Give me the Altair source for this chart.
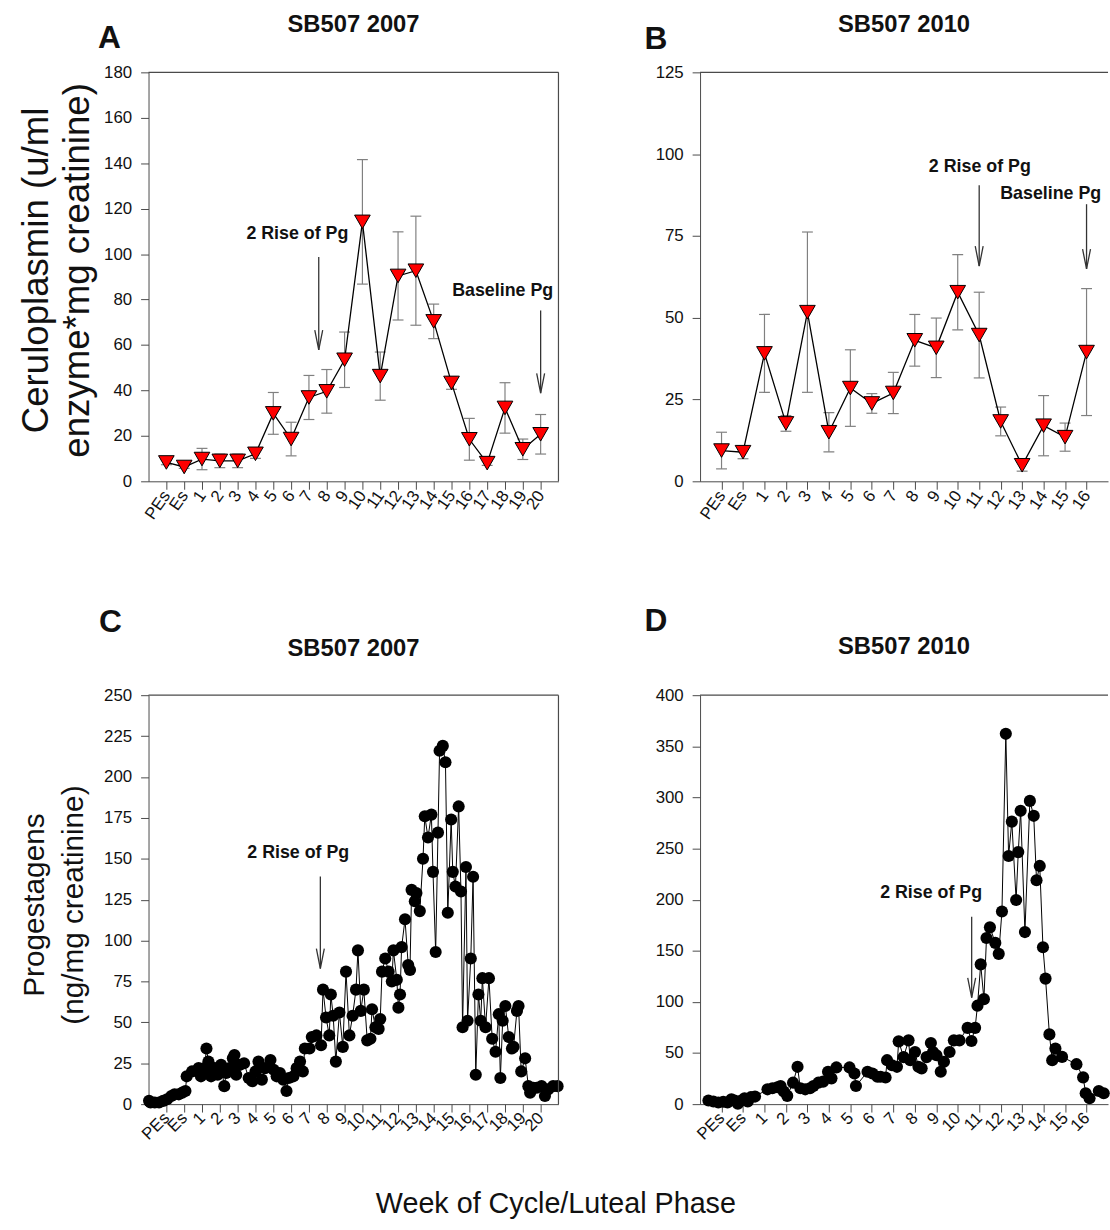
import json
import altair as alt
import pandas as pd

FONT = "Liberation Sans"
INK = "#111111"
AXIS_GREY = "#4a4a4a"
ERR_GREY = "#808080"

# ---------------- data ----------------
weeks_A = ["PEs", "Es"] + [str(w) for w in range(1, 21)]
cerulo_2007 = [8.3, 6.3, 9.8, 9.0, 9.0, 12.1, 29.9, 18.6, 36.9, 39.6, 53.5,
               114.2, 46.3, 90.4, 92.7, 70.4, 43.3, 18.5, 8.0, 32.3, 14.1, 20.7]
cerulo_2007_err = [1.0, 0.6, 4.7, 3.0, 3.0, 2.0, 9.2, 7.4, 9.7, 9.6, 12.2,
                   27.4, 10.6, 19.4, 24.0, 7.6, 2.8, 9.2, 1.0, 11.1, 4.5, 8.7]

weeks_B = ["PEs", "Es"] + [str(w) for w in range(1, 17)]
cerulo_2010 = [9.4, 8.9, 39.1, 17.7, 51.7, 15.0, 28.5, 23.8, 27.0, 43.1, 40.8,
               57.8, 44.7, 18.3, 4.9, 17.0, 13.5, 39.5]
cerulo_2010_err = [5.6, 2.0, 11.9, 2.4, 24.5, 6.0, 11.7, 3.0, 6.3, 7.9, 9.1,
                   11.5, 13.1, 4.4, 1.8, 9.2, 4.3, 19.4]

# progestagen samples: position on the week axis (0 = PEs, 1 = Es, 2 = week 1 ...)
prog_2007_t = [-0.97, -0.89, -0.65, -0.41, -0.18, 0.04, 0.28, 0.46, 0.70, 0.89,
               1.07, 1.14, 1.44, 1.81, 1.94, 2.14, 2.25, 2.36, 2.51, 2.70,
               2.88, 3.07, 3.25, 3.36, 3.55, 3.73, 3.82, 3.92, 4.10, 4.36,
               4.62, 4.82, 5.00, 5.17, 5.36, 5.54, 5.84, 6.02, 6.19, 6.37,
               6.56, 6.74, 6.87, 7.13, 7.31, 7.50, 7.66, 7.77, 8.03, 8.16,
               8.42, 8.68, 8.79, 8.96, 9.14, 9.23, 9.36, 9.51, 9.71, 9.90,
               10.08, 10.27, 10.45, 10.64, 10.75, 10.91, 11.08, 11.27, 11.45, 11.54,
               11.73, 11.91, 12.00, 12.10, 12.28, 12.47, 12.65, 12.74, 12.93, 13.02,
               13.11, 13.20, 13.39, 13.57, 13.67, 13.76, 13.94, 14.03, 14.22, 14.40,
               14.50, 14.68, 14.87, 14.96, 15.11, 15.24, 15.33, 15.51, 15.66, 15.79,
               15.98, 16.07, 16.22, 16.40, 16.53, 16.62, 16.81, 16.90, 17.08, 17.21,
               17.36, 17.51, 17.64, 17.73, 17.91, 18.10, 18.28, 18.47, 18.65, 18.74,
               18.87, 19.02, 19.21, 19.39, 19.48, 19.67, 19.76, 19.91, 20.13, 20.31,
               20.41, 20.59, 20.78, 21.05, 21.24, 21.42, 21.70, 21.95]
prog_2007 = [2, 1, 1, 1, 2, 3, 5, 6, 6, 7,
             8, 17, 20, 22, 17, 22, 34, 26, 17, 22,
             18, 24, 11, 19, 22, 28, 30, 18, 24, 25,
             16, 14, 20, 26, 15, 22, 27, 21, 17, 19,
             15, 8, 16, 17, 22, 26, 20, 34, 34, 41,
             42, 36, 70, 53, 42, 67, 54, 26, 56, 35,
             81, 42, 54, 70, 94, 57, 70, 39, 40, 58,
             47, 46, 52, 81, 89, 81, 75, 94, 76, 59,
             67, 96, 113, 85, 82, 131, 124, 129, 118, 150,
             176, 163, 177, 142, 93, 166, 216, 219, 209, 117,
             174, 142, 133, 182, 130, 47, 145, 51, 89, 139,
             18, 67, 51, 77, 47, 77, 40, 32, 55, 16,
             51, 60, 41, 34, 35, 57, 60, 20, 28, 11,
             7, 10, 10, 11, 5, 9, 11, 11]

prog_2010_t = [-0.61, -0.38, -0.15, 0.08, 0.28, 0.46, 0.61, 0.76, 0.92, 1.07,
               1.22, 1.37, 1.56, 2.14, 2.37, 2.60, 2.75, 2.90, 3.06, 3.33,
               3.54, 3.67, 3.90, 4.12, 4.28, 4.51, 4.73, 4.96, 5.12, 5.35,
               5.96, 6.19, 6.26, 6.80, 7.03, 7.26, 7.41, 7.64, 7.71, 7.94,
               8.17, 8.25, 8.48, 8.71, 8.79, 9.01, 9.17, 9.32, 9.55, 9.75,
               9.85, 10.01, 10.21, 10.36, 10.62, 10.82, 11.08, 11.46, 11.64, 11.81,
               11.92, 12.07, 12.22, 12.34, 12.50, 12.75, 12.91, 13.06, 13.24, 13.37,
               13.52, 13.72, 13.82, 13.93, 14.13, 14.36, 14.54, 14.67, 14.82, 14.97,
               15.09, 15.27, 15.40, 15.55, 15.86, 16.53, 16.84, 16.96, 17.14, 17.57,
               17.80]
prog_2010 = [3.6, 2.6, 1.6, 2.3, 1.6, 4.8, 3.6, 0.5, 3.6, 5.8,
             2.6, 6.8, 7.4, 14.5, 15.5, 16.5, 17.8, 12.3, 8.1, 21,
             36.5, 15.5, 14.5, 15.5, 17.8, 21, 22, 31.7, 25.2, 35.9,
             35.9, 30, 17.8, 31.7, 30, 26.8, 26.8, 26, 43, 38,
             36.5, 61.4, 46, 62.4, 43, 51, 36.5, 35, 46, 59.8,
             51, 47.8, 31.7, 41.4, 51, 62.4, 62.4, 74.6, 61.7, 74.6,
             96.3, 136.7, 102.7, 162.5, 172.9, 157.7, 147, 188.4, 362.2, 242.7,
             276.3, 199.7, 246.5, 286.9, 168.3, 296.6, 282, 219, 233, 153.5,
             122.8, 68.2, 43, 54.3, 46.2, 39.1, 26.2, 10.7, 5.8, 12.9,
             10.7]

# annotations (week-axis position, value units)
notes_A = ["2 Rise of Pg", "Baseline Pg"]
notes_A_x = [7.35, 18.87]
notes_A_y = [109, 83.8]
arrows_A_x = [8.55, 21.0]
arrows_A_top = [98.7, 75.2]
arrows_A_tip = [57.8, 38.8]

notes_B = ["2 Rise of Pg", "Baseline Pg"]
notes_B_x = [12.03, 15.33]
notes_B_y = [96.1, 87.7]
arrows_B_x = [12.0, 17.0]
arrows_B_top = [90.5, 84.7]
arrows_B_tip = [65.8, 64.9]

notes_C = ["2 Rise of Pg"]
notes_C_x = [7.4]
notes_C_y = [153.2]
arrows_C_x = [8.64]
arrows_C_top = [139.1]
arrows_C_tip = [82.9]

notes_D = ["2 Rise of Pg"]
notes_D_x = [9.76]
notes_D_y = [206]
arrows_D_x = [11.65]
arrows_D_top = [183.4]
arrows_D_tip = [104.1]

# ---------------- helpers ----------------
H = 413


def x_enc(field, labels, angle):
    lab = json.dumps(labels)
    return alt.X(
        f"{field}:Q",
        scale=alt.Scale(domain=[-1, len(labels)], nice=False, zero=False),
        axis=alt.Axis(
            values=list(range(len(labels))), labelExpr=f"{lab}[datum.value]",
            labelAngle=angle, labelAlign="right", labelBaseline="middle",
            labelOverlap=False, labelFlush=False, labelBound=False,
            grid=False, title=None, tickSize=8, tickColor=AXIS_GREY,
            domainColor=AXIS_GREY, labelFont=FONT, labelFontSize=17,
            labelColor=INK, labelPadding=3),
    )


def y_enc(field, ymax, ystep):
    return alt.Y(
        f"{field}:Q",
        scale=alt.Scale(domain=[0, ymax], nice=False, zero=True),
        axis=alt.Axis(
            values=list(range(0, ymax + 1, ystep)), grid=False, title=None,
            tickSize=8, tickColor=AXIS_GREY, domainColor=AXIS_GREY,
            labelFont=FONT, labelFontSize=17, labelColor=INK, labelPadding=9,
            labelFlush=False, labelOverlap=False),
    )


def one(text):
    return alt.Chart(pd.DataFrame({"t": [text]}))


def frame(W, right=True):
    layers = [one("").mark_rule(color=AXIS_GREY, strokeWidth=1.2).encode(
        x=alt.value(0), x2=alt.value(W), y=alt.value(0))]
    if right:
        layers.append(one("").mark_rule(color=AXIS_GREY, strokeWidth=1.2).encode(
            x=alt.value(W), y=alt.value(0), y2=alt.value(H)))
    return layers


def headers(W, title, letter, lx, ly, ty, ytitle=None, ytx=None, yfs=30, yty=None):
    layers = [
        one(title).mark_text(font=FONT, fontSize=24, fontWeight="bold", color=INK,
                             align="center", baseline="middle").encode(
            x=alt.value(W / 2), y=alt.value(ty), text="t:N"),
        one(letter).mark_text(font=FONT, fontSize=32, fontWeight="bold", color=INK,
                              align="left", baseline="alphabetic").encode(
            x=alt.value(lx), y=alt.value(ly), text="t:N"),
    ]
    if ytitle:
        for line, px in zip(ytitle, ytx):
            layers.append(one(line).mark_text(
                font=FONT, fontSize=yfs, color=INK, angle=270,
                align="center", baseline="middle").encode(
                x=alt.value(px), y=alt.value(yty if yty is not None else H / 2),
                text="t:N"))
    return layers


def annotations(labels, angle, ymax, ystep, nx, ny, ntext, ax, atop, atip):
    tdf = pd.DataFrame({"tx": nx, "ty": ny, "label": ntext})
    adf = pd.DataFrame({"ax": ax, "atop": atop, "atip": atip})
    txt = alt.Chart(tdf).mark_text(font=FONT, fontSize=18, fontWeight="bold",
                                   color=INK, align="center", baseline="middle").encode(
        x=x_enc("tx", labels, angle), y=y_enc("ty", ymax, ystep), text="label:N")
    shaft = alt.Chart(adf).mark_rule(color="#333333", strokeWidth=1.3).encode(
        x=x_enc("ax", labels, angle), y=y_enc("atop", ymax, ystep), y2="atip:Q")
    head = alt.Chart(adf).mark_point(
        shape="M-0.4,-1L0,1L0.4,-1", size=400, filled=False, color="#333333",
        strokeWidth=1.3, opacity=1, yOffset=-10).encode(
        x=x_enc("ax", labels, angle), y=y_enc("atip", ymax, ystep))
    return [shaft, head, txt]


def cerulo_panel(labels, vals, errs, W, ymax, ystep, notes, hdr, right=True):
    df = pd.DataFrame({"pos": list(range(len(labels))), "val": vals, "err": errs})
    df["lo"] = df["val"] - df["err"]
    df["hi"] = df["val"] + df["err"]
    base = alt.Chart(df)
    X = x_enc("pos", labels, 305)
    bars = base.mark_rule(color=ERR_GREY, strokeWidth=1.2).encode(
        x=X, y=y_enc("lo", ymax, ystep), y2="hi:Q")
    cap_lo = base.mark_tick(orient="horizontal", size=11, thickness=1.2,
                            color=ERR_GREY, opacity=1).encode(
        x=X, y=y_enc("lo", ymax, ystep))
    cap_hi = base.mark_tick(orient="horizontal", size=11, thickness=1.2,
                            color=ERR_GREY, opacity=1).encode(
        x=X, y=y_enc("hi", ymax, ystep))
    line = base.mark_line(color="black", strokeWidth=1.3).encode(
        x=X, y=y_enc("val", ymax, ystep))
    pts = base.mark_point(shape="triangle-down", size=250, filled=True,
                          fill="#ff0000", stroke="black", strokeWidth=1,
                          opacity=1).encode(x=X, y=y_enc("val", ymax, ystep))
    ann = annotations(labels, 305, ymax, ystep, *notes)
    layers = [bars, cap_lo, cap_hi, line, pts] + ann + frame(W, right) + hdr
    return alt.layer(*layers).properties(width=W, height=H)


def prog_panel(labels, t, vals, W, ymax, ystep, notes, hdr, right=True):
    df = pd.DataFrame({"t": t, "val": vals})
    base = alt.Chart(df)
    X = x_enc("t", labels, 315)
    line = base.mark_line(color="black", strokeWidth=1).encode(
        x=X, y=y_enc("val", ymax, ystep))
    pts = base.mark_circle(size=150, color="black", opacity=1).encode(
        x=X, y=y_enc("val", ymax, ystep))
    ann = annotations(labels, 315, ymax, ystep, *notes)
    layers = [line, pts] + ann + frame(W, right) + hdr
    return alt.layer(*layers).properties(width=W, height=H)


WA, WB = 414, 412

panel_A = cerulo_panel(
    weeks_A, cerulo_2007, cerulo_2007_err, WA, 180, 20,
    (notes_A_x, notes_A_y, notes_A, arrows_A_x, arrows_A_top, arrows_A_tip),
    headers(WA, "SB507 2007", "A", -51, -25, -48,
            ["Ceruloplasmin (u/ml", "enzyme*mg creatinine)"], [-113, -71], 37, 200))

panel_B = cerulo_panel(
    weeks_B, cerulo_2010, cerulo_2010_err, WB, 125, 25,
    (notes_B_x, notes_B_y, notes_B, arrows_B_x, arrows_B_top, arrows_B_tip),
    headers(WB, "SB507 2010", "B", -56, -24, -48), right=False)

panel_C = prog_panel(
    weeks_A, prog_2007_t, prog_2007, WA, 250, 25,
    (notes_C_x, notes_C_y, notes_C, arrows_C_x, arrows_C_top, arrows_C_tip),
    headers(WA, "SB507 2007", "C", -50, -64, -47,
            ["Progestagens", "(ng/mg creatinine)"], [-115, -75], 30, 212))

panel_D = prog_panel(
    weeks_B, prog_2010_t, prog_2010, WB, 400, 50,
    (notes_D_x, notes_D_y, notes_D, arrows_D_x, arrows_D_top, arrows_D_tip),
    headers(WB, "SB507 2010", "D", -56, -65, -49), right=False)

chart = alt.concat(
    panel_A, panel_B, panel_C, panel_D, columns=2,
    spacing={"row": 83, "column": 81},
    align="each",
    title=alt.TitleParams("Week of Cycle/Luteal Phase", orient="bottom",
                          anchor="middle", fontSize=29, fontWeight="normal",
                          font=FONT, color=INK, offset=48, dx=-8),
).properties(
    padding={"left": 18, "top": 7, "right": 0, "bottom": 2},
    background="white",
).configure_view(strokeWidth=0)

chart.save("out.html", embed_options={"renderer": "svg", "actions": False})
